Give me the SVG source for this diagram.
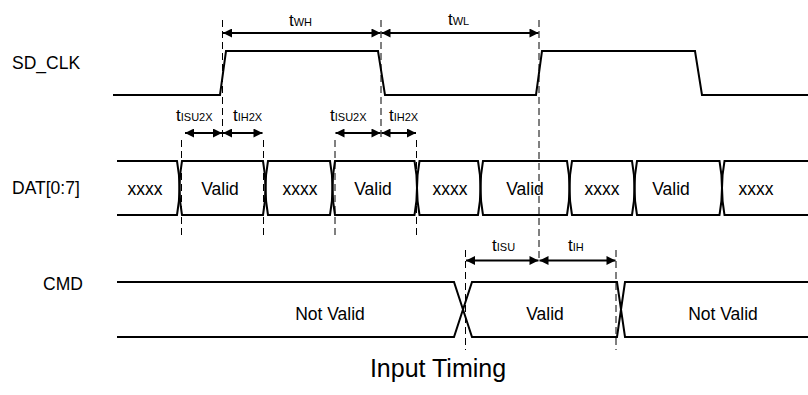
<svg xmlns="http://www.w3.org/2000/svg" width="808" height="395" viewBox="0 0 808 395">
<style>
.sig{fill:none;stroke:#000;stroke-width:2;stroke-linejoin:miter}
.dash{fill:none;stroke:#000;stroke-width:1;stroke-dasharray:7,4}
.arr{fill:none;stroke:#000;stroke-width:2;marker-start:url(#ah);marker-end:url(#ah)}
.lbl{font-family:"Liberation Sans",Arial,sans-serif;font-size:17.5px;fill:#000}
.txt{font-family:"Liberation Sans",Arial,sans-serif;font-size:17.5px;fill:#000;text-anchor:middle}
.tm{font-family:"Liberation Sans",Arial,sans-serif;font-size:17px;fill:#000}
.sub{font-size:11px}
.title{font-family:"Liberation Sans",Arial,sans-serif;font-size:25px;fill:#000;text-anchor:middle}
</style>
<defs>
<marker id="ah" viewBox="0 0 10 10" refX="10" refY="5" markerWidth="10" markerHeight="9" markerUnits="userSpaceOnUse" orient="auto-start-reverse">
<path d="M0,0 L10,5 L0,10 Z" fill="#000"/>
</marker>
</defs>
<rect width="808" height="395" fill="#fff"/>

<g id="labels">
<text class="lbl" x="12" y="69">SD_CLK</text>
<text class="lbl" x="12" y="194">DAT[0:7]</text>
<text class="lbl" x="43" y="290">CMD</text>
</g>

<g id="sd_clk">
<path class="sig" d="M113,95 L220,95 L226,51 L378,51 L385,95 L536,95 L542,51 L695,51 L702,95 L808,95"/>
</g>

<g id="dat">
<path class="sig" d="M117,161 L177,161 Q182,188 177,215 L117,215"/>
<path class="sig" d="M182,161 L263,161 Q268,188 263,215 L182,215 Q177,188 182,161 Z"/>
<path class="sig" d="M268,161 L330,161 Q335,188 330,215 L268,215 Q263,188 268,161 Z"/>
<path class="sig" d="M335,161 L414.5,161 Q419.5,188 414.5,215 L335,215 Q330,188 335,161 Z"/>
<path class="sig" d="M419.5,161 L478,161 Q483,188 478,215 L419.5,215 Q414.5,188 419.5,161 Z"/>
<path class="sig" d="M483,161 L567,161 Q572,188 567,215 L483,215 Q478,188 483,161 Z"/>
<path class="sig" d="M572,161 L632,161 Q637,188 632,215 L572,215 Q567,188 572,161 Z"/>
<path class="sig" d="M637,161 L719.5,161 Q724.5,188 719.5,215 L637,215 Q632,188 637,161 Z"/>
<path class="sig" d="M808,161 L724.5,161 Q719.5,188 724.5,215 L808,215"/>
<text class="txt" x="145" y="195">xxxx</text>
<text class="txt" x="220" y="195">Valid</text>
<text class="txt" x="300" y="195">xxxx</text>
<text class="txt" x="373" y="195">Valid</text>
<text class="txt" x="450" y="195">xxxx</text>
<text class="txt" x="525" y="195">Valid</text>
<text class="txt" x="602" y="195">xxxx</text>
<text class="txt" x="671" y="195">Valid</text>
<text class="txt" x="756" y="195">xxxx</text>
</g>

<g id="cmd">
<path class="sig" d="M117,282 L454,282 L472,337 L617,337 L625,282 L808,282"/>
<path class="sig" d="M117,337 L454,337 L472,282 L617,282 L625,337 L808,337"/>
<text class="txt" x="330" y="320">Not Valid</text>
<text class="txt" x="545" y="320">Valid</text>
<text class="txt" x="723" y="320">Not Valid</text>
</g>

<g id="connectors">
<line class="dash" x1="222.5" y1="20" x2="222.5" y2="140"/>
<line class="dash" x1="381" y1="20" x2="381" y2="140"/>
<line class="dash" x1="539" y1="20" x2="539" y2="262"/>
<line class="dash" x1="181.5" y1="140" x2="181.5" y2="236"/>
<line class="dash" x1="263.5" y1="140" x2="263.5" y2="236"/>
<line class="dash" x1="335" y1="140" x2="335" y2="236"/>
<line class="dash" x1="416.5" y1="140" x2="416.5" y2="236"/>
<line class="dash" x1="465.5" y1="250" x2="465.5" y2="350"/>
<line class="dash" x1="616" y1="250" x2="616" y2="350"/>
<line class="arr" x1="223" y1="33" x2="380.5" y2="33"/>
<line class="arr" x1="381.5" y1="33" x2="538.5" y2="33"/>
<line class="arr" x1="185" y1="133" x2="222" y2="133"/>
<line class="arr" x1="223" y1="133" x2="262.5" y2="133"/>
<line class="arr" x1="335.5" y1="133" x2="380.5" y2="133"/>
<line class="arr" x1="381.5" y1="133" x2="416" y2="133"/>
<line class="arr" x1="466" y1="260.5" x2="538.5" y2="260.5"/>
<line class="arr" x1="539.5" y1="260.5" x2="615.5" y2="260.5"/>
</g>

<g id="timing-labels">
<text class="tm" x="289" y="26">t<tspan class="sub">WH</tspan></text>
<text class="tm" x="448" y="25">t<tspan class="sub">WL</tspan></text>
<text class="tm" x="176" y="121">t<tspan class="sub">ISU2X</tspan></text>
<text class="tm" x="233" y="121">t<tspan class="sub">IH2X</tspan></text>
<text class="tm" x="330" y="121">t<tspan class="sub">ISU2X</tspan></text>
<text class="tm" x="389" y="121">t<tspan class="sub">IH2X</tspan></text>
<text class="tm" x="492" y="251">t<tspan class="sub">ISU</tspan></text>
<text class="tm" x="568" y="251">t<tspan class="sub">IH</tspan></text>
</g>

<text class="title" x="438" y="377">Input Timing</text>
</svg>
